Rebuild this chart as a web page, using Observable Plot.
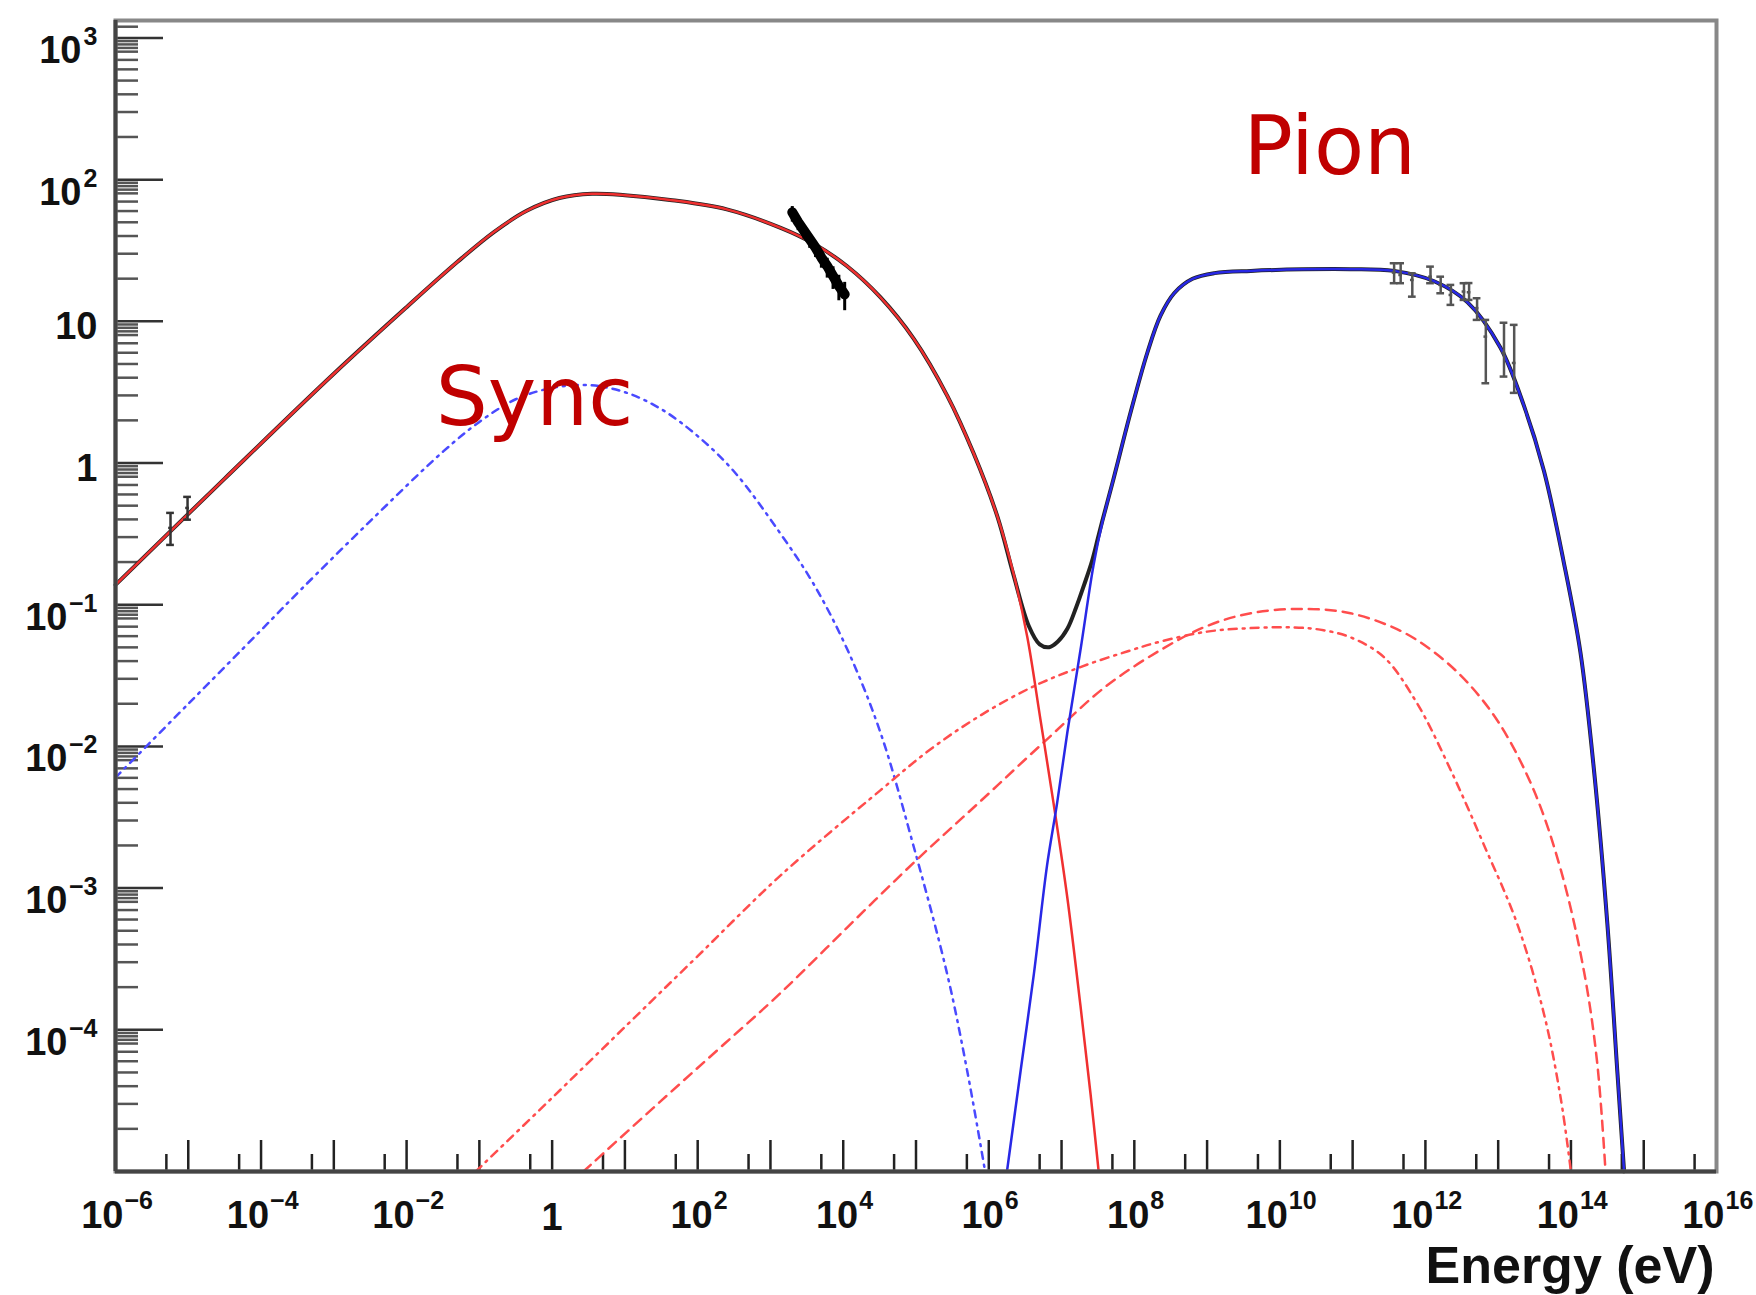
<!DOCTYPE html>
<html>
<head>
<meta charset="utf-8">
<script src="https://cdn.jsdelivr.net/npm/d3@7"></script>
<script src="https://cdn.jsdelivr.net/npm/@observablehq/plot@0.6"></script>
<style>
  html, body { margin: 0; padding: 0; background: #fff; }
  #chart svg { display: block; }
</style>
</head>
<body>
<div id="chart"></div>
<script>
// ---------- data (log10 energy in eV, log10 flux) ----------
const redSolidLogE = [-6.0, -4.5, -3.0, -2.0, -1.3, -0.8, -0.35, 0.1, 0.55, 1.0, 1.65, 2.4, 3.14, 3.59, 4.05, 4.51, 4.97, 5.43, 5.79, 6.12, 6.34, 6.53, 6.71, 6.89, 7.08, 7.26, 7.40, 7.51];
const redSolidLogF = [-0.86, -0.11, 0.63, 1.10, 1.42, 1.63, 1.78, 1.87, 1.90, 1.89, 1.855, 1.79, 1.66, 1.55, 1.39, 1.17, 0.876, 0.474, 0.07, -0.38, -0.78, -1.23, -1.81, -2.40, -3.07, -3.83, -4.46, -5.0];

const blueSolidLogE = [6.25, 6.44, 6.62, 6.80, 6.94, 7.08, 7.26, 7.44, 7.56, 7.72, 7.95, 8.18, 8.36, 8.55, 8.8, 9.1, 9.6, 10.97, 11.57, 12.12, 12.58, 13.03, 13.35, 13.63, 13.90, 14.13, 14.32, 14.50, 14.64, 14.73];
const blueSolidLogF = [-5.0, -4.28, -3.605, -2.843, -2.397, -1.90, -1.32, -0.72, -0.42, -0.10, 0.36, 0.78, 1.04, 1.20, 1.30, 1.34, 1.356, 1.368, 1.356, 1.283, 1.134, 0.815, 0.41, -0.058, -0.697, -1.335, -2.186, -3.25, -4.315, -5.0];

const totalLogE = [-6.0, -4.5, -3.0, -2.0, -1.3, -0.8, -0.35, 0.1, 0.55, 1.0, 1.65, 2.4, 3.14, 3.59, 4.05, 4.51, 4.97, 5.43, 5.79, 6.12, 6.34, 6.55, 6.70, 6.83, 6.95, 7.08, 7.20, 7.31, 7.42, 7.50, 7.56, 7.72, 7.95, 8.18, 8.36, 8.55, 8.8, 9.1, 9.6, 10.97, 11.57, 12.12, 12.58, 13.03, 13.35, 13.63, 13.90, 14.13, 14.32, 14.50, 14.64, 14.73];
const totalLogF = [-0.86, -0.11, 0.63, 1.10, 1.42, 1.63, 1.78, 1.87, 1.90, 1.89, 1.855, 1.79, 1.66, 1.55, 1.39, 1.17, 0.876, 0.474, 0.07, -0.38, -0.79, -1.15, -1.28, -1.30, -1.26, -1.17, -1.02, -0.86, -0.69, -0.53, -0.41, -0.10, 0.36, 0.78, 1.04, 1.20, 1.30, 1.34, 1.356, 1.368, 1.356, 1.283, 1.134, 0.815, 0.41, -0.058, -0.697, -1.335, -2.186, -3.25, -4.315, -5.0];

const syncLogE = [-6.0, -5.0, -4.0, -3.457, -2.5, -1.5, -1.0, -0.5, 0.0, 0.5, 1.0, 1.5, 2.0, 2.5, 3.14, 3.60, 4.06, 4.51, 4.97, 5.43, 5.70, 5.95];
const syncLogF = [-2.22, -1.70, -1.18, -0.896, -0.41, 0.08, 0.29, 0.45, 0.53, 0.55, 0.50, 0.38, 0.19, -0.06, -0.50, -0.86, -1.32, -1.90, -2.71, -3.61, -4.28, -5.0];

const dashLogE = [0.43, 1.5, 2.3, 3.14, 4.05, 4.97, 5.9, 6.8, 7.6, 8.36, 9.0, 9.6, 10.28, 10.97, 11.66, 12.12, 12.58, 13.03, 13.49, 13.86, 14.18, 14.36, 14.475];
const dashLogF = [-5.0, -4.50, -4.13, -3.74, -3.28, -2.82, -2.38, -1.95, -1.58, -1.32, -1.15, -1.06, -1.03, -1.06, -1.185, -1.335, -1.55, -1.85, -2.31, -2.87, -3.59, -4.23, -5.0];

const dashDotLogE = [-1.05, 0.0, 1.0, 2.0, 3.14, 4.51, 5.2, 5.89, 6.6, 7.26, 7.9, 8.36, 9.0, 9.6, 10.2, 10.6, 10.97, 11.43, 11.89, 12.35, 12.8, 13.26, 13.63, 13.86, 14.0];
const dashDotLogF = [-5.0, -4.48, -3.98, -3.48, -2.91, -2.31, -2.02, -1.78, -1.58, -1.44, -1.33, -1.26, -1.19, -1.165, -1.16, -1.18, -1.23, -1.37, -1.70, -2.17, -2.69, -3.25, -3.89, -4.485, -5.0];

// radio points
const radioLogE = [-5.244, -5.01];
const radioLogF = [-0.458, -0.317];
const radioLogLo = [-0.578, -0.40];
const radioLogHi = [-0.352, -0.239];

// X-ray band
const xrayLogE = [3.30, 3.38, 3.46, 3.54, 3.62, 3.70, 3.78, 3.86, 3.94, 4.02];
const xrayLogF = [1.77, 1.70, 1.64, 1.58, 1.52, 1.45, 1.39, 1.32, 1.25, 1.19];
const xrayLogErr = [0.04, 0.03, 0.03, 0.035, 0.04, 0.045, 0.055, 0.065, 0.075, 0.085];

// TeV points
const tevLogE = [11.57, 11.66, 11.82, 12.07, 12.21, 12.35, 12.53, 12.60, 12.71, 12.83, 13.08, 13.22];
const tevLogF = [1.344, 1.327, 1.292, 1.315, 1.257, 1.186, 1.210, 1.205, 1.093, 0.892, 0.777, 0.706];
const tevLogLo = [1.269, 1.269, 1.174, 1.269, 1.198, 1.116, 1.151, 1.151, 1.010, 0.563, 0.610, 0.495];
const tevLogHi = [1.410, 1.410, 1.339, 1.386, 1.315, 1.257, 1.269, 1.270, 1.163, 1.010, 0.990, 0.975];

// axis tick labels
const xLabelValues = [1e-6, 1e-4, 1e-2, 1, 1e2, 1e4, 1e6, 1e8, 1e10, 1e12, 1e14, 1e16];
const xLabelBase = ["10", "10", "10", "1", "10", "10", "10", "10", "10", "10", "10", "10"];
const xLabelExp = ["\u22126", "\u22124", "\u22122", "", "2", "4", "6", "8", "10", "12", "14", "16"];
const yLabelValues = [1e-4, 1e-3, 1e-2, 1e-1, 1, 10, 1e2, 1e3];
const yLabelBase = ["10", "10", "10", "10", "1", "10", "10", "10"];
const yLabelExp = ["\u22124", "\u22123", "\u22122", "\u22121", "", "", "2", "3"];
const xTitle = "Energy (eV)";

// annotations
const annotText = ["Pion", "Sync"];
const annotLogE = [9.50, -1.60];
const annotLogF = [2.04, 0.27];

// ---------- build ----------
const toPts = (le, lf) => le.map((e, i) => ({x: 10 ** e, y: 10 ** lf[i]}));
const redSolid = toPts(redSolidLogE, redSolidLogF);
const blueSolid = toPts(blueSolidLogE, blueSolidLogF);
const total = toPts(totalLogE, totalLogF);
const sync = toPts(syncLogE, syncLogF);
const dashed = toPts(dashLogE, dashLogF);
const dashDot = toPts(dashDotLogE, dashDotLogF);
const radio = radioLogE.map((e, i) => ({x: 10 ** e, y: 10 ** radioLogF[i], lo: 10 ** radioLogLo[i], hi: 10 ** radioLogHi[i]}));
const xray = xrayLogE.map((e, i) => ({x: 10 ** e, y: 10 ** xrayLogF[i], lo: 10 ** (xrayLogF[i] - xrayLogErr[i] - 0.03), hi: 10 ** (xrayLogF[i] + xrayLogErr[i])}));
const tev = tevLogE.map((e, i) => ({x: 10 ** e, y: 10 ** tevLogF[i], lo: 10 ** tevLogLo[i], hi: 10 ** tevLogHi[i]}));
const annots = annotText.map((t, i) => ({t, x: 10 ** annotLogE[i], y: 10 ** annotLogF[i]}));

const xMajor = d3.range(-6, 17).map(k => 10 ** k);
const xMinor = d3.range(-6, 16).map(k => 5 * 10 ** k);
const yMajor = d3.range(-5, 4).map(k => 10 ** k);
const yMinor = [];
for (let k = -5; k <= 2; k++) for (const m of [2, 3, 4, 5, 6, 7, 8, 8.5, 9, 9.5]) yMinor.push(m * 10 ** k);
yMinor.push(1.2e3);

const plotW = 1756 - 115 - 40;
const plotH = 1295 - 20 - 124;
const FONT = "'Liberation Sans', Arial, Helvetica, sans-serif";
const CURVE = "catmull-rom";

const labelMarks = [];
xLabelValues.forEach((v, i) => {
  const exp = xLabelExp[i];
  if (!exp) {
    labelMarks.push(Plot.text([v], {x: d => d, frameAnchor: "bottom", text: () => xLabelBase[i], textAnchor: "middle", lineAnchor: "bottom", dy: 58, fontSize: 38, fontWeight: "bold", fill: "#111"}));
    return;
  }
  const ew = exp.startsWith("\u2212") ? 28 : (exp.length > 1 ? 28 : 14);
  const off = 22 - ew / 2;
  labelMarks.push(Plot.text([v], {x: d => d, frameAnchor: "bottom", text: () => xLabelBase[i], textAnchor: "end", lineAnchor: "bottom", dx: off, dy: 56, fontSize: 38, fontWeight: "bold", fill: "#111"}));
  labelMarks.push(Plot.text([v], {x: d => d, frameAnchor: "bottom", text: () => exp, textAnchor: "start", lineAnchor: "bottom", dx: off + 1, dy: 37, fontSize: 25, fontWeight: "bold", fill: "#111"}));
});
yLabelValues.forEach((v, i) => {
  const exp = yLabelExp[i];
  if (!exp) {
    labelMarks.push(Plot.text([v], {y: d => d, frameAnchor: "left", text: () => yLabelBase[i], textAnchor: "end", lineAnchor: "bottom", dx: -18, dy: 18, fontSize: 38, fontWeight: "bold", fill: "#111"}));
    return;
  }
  const baseDx = exp.startsWith("\u2212") ? -48 : -34;
  labelMarks.push(Plot.text([v], {y: d => d, frameAnchor: "left", text: () => yLabelBase[i], textAnchor: "end", lineAnchor: "bottom", dx: baseDx, dy: 25, fontSize: 38, fontWeight: "bold", fill: "#111"}));
  labelMarks.push(Plot.text([v], {y: d => d, frameAnchor: "left", text: () => exp, textAnchor: "end", lineAnchor: "bottom", dx: -18, dy: 7, fontSize: 25, fontWeight: "bold", fill: "#111"}));
});

const capF = 1.13;
const errMarks = (data, stroke, sw) => [
  Plot.ruleX(data, {x: "x", y1: "lo", y2: "hi", stroke, strokeWidth: sw}),
  Plot.ruleY(data, {y: "lo", x1: d => d.x / capF, x2: d => d.x * capF, stroke, strokeWidth: sw}),
  Plot.ruleY(data, {y: "hi", x1: d => d.x / capF, x2: d => d.x * capF, stroke, strokeWidth: sw}),
  Plot.ruleY(data, {y: "y", x1: d => d.x / 1.06, x2: d => d.x * 1.06, stroke, strokeWidth: sw})
];

const chart = Plot.plot({
  width: 1756,
  height: 1295,
  marginLeft: 115,
  marginRight: 40,
  marginTop: 20,
  marginBottom: 124,
  x: {type: "log", domain: [1e-6, 1e16], axis: null},
  y: {type: "log", domain: [1e-5, 10 ** 3.123], axis: null},
  style: {fontFamily: FONT, background: "white", overflow: "visible"},
  marks: [
    // ticks
    Plot.tickX(xMajor, {x: d => d, insetTop: plotH - 31, stroke: "#222", strokeWidth: 2.5}),
    Plot.tickX(xMinor, {x: d => d, insetTop: plotH - 17, stroke: "#222", strokeWidth: 2.5}),
    Plot.tickY(yMajor, {y: d => d, insetRight: plotW - 48, stroke: "#333", strokeWidth: 2.5}),
    Plot.tickY(yMinor, {y: d => d, insetRight: plotW - 23, stroke: "#555", strokeWidth: 2.5}),
    // curves
    Plot.line(sync, {x: "x", y: "y", stroke: "#4a4aff", strokeWidth: 2.5, strokeDasharray: "7,6,2,6", curve: CURVE}),
    Plot.line(dashDot, {x: "x", y: "y", stroke: "#ff4d4d", strokeWidth: 2.5, strokeDasharray: "8,6,2,6", curve: CURVE}),
    Plot.line(dashed, {x: "x", y: "y", stroke: "#ff4d4d", strokeWidth: 2.5, strokeDasharray: "10,7", curve: CURVE}),
    Plot.line(total, {x: "x", y: "y", stroke: "#222", strokeWidth: 4, curve: CURVE}),
    Plot.line(redSolid, {x: "x", y: "y", stroke: "#f03030", strokeWidth: 2.5, curve: CURVE}),
    Plot.line(blueSolid, {x: "x", y: "y", stroke: "#2828e6", strokeWidth: 2.5, curve: CURVE}),
    // data
    ...errMarks(radio, "#333", 2.5),
    Plot.line(xray, {x: "x", y: "y", stroke: "#000", strokeWidth: 10}),
    Plot.ruleX(xray, {x: "x", y1: "lo", y2: "hi", stroke: "#000", strokeWidth: 3}),
    ...errMarks(tev, "#555", 2.5),
    // frame & axes
    Plot.frame({stroke: "#888", strokeWidth: 4}),
    Plot.ruleY([1e-5], {stroke: "#444", strokeWidth: 4}),
    Plot.ruleX([1e-6], {stroke: "#444", strokeWidth: 4}),
    // labels
    ...labelMarks,
    Plot.text([xTitle], {frameAnchor: "bottom-right", text: d => d, textAnchor: "end", lineAnchor: "bottom", dx: -2, dy: 111, fontSize: 52, fontWeight: "bold", fill: "#111"}),
    Plot.text(annots, {x: "x", y: "y", text: "t", textAnchor: "start", lineAnchor: "bottom", fontSize: 82, fill: "#c00000", fontFamily: "'DejaVu Sans', sans-serif"})
  ]
});
document.getElementById("chart").append(chart);
</script>
</body>
</html>
